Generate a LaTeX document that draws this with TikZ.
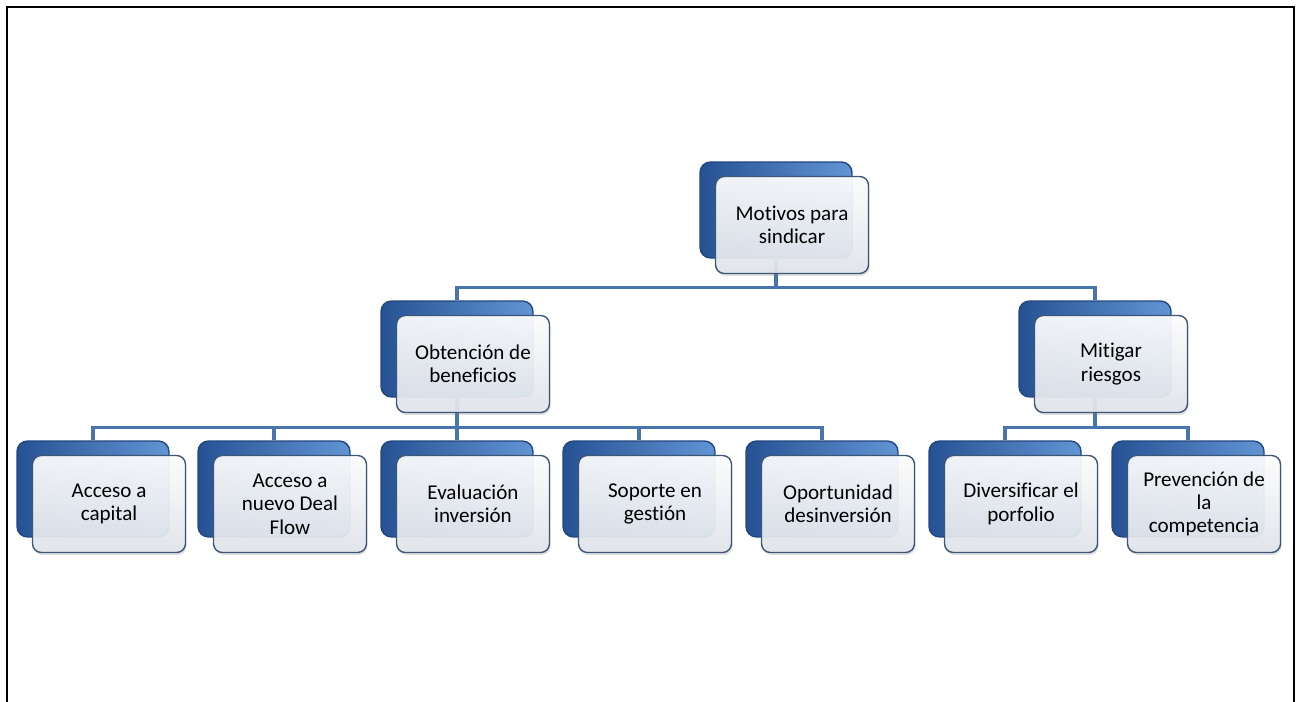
\documentclass[tikz,border=0pt]{standalone}
\usepackage{fontspec}
\setmainfont{Carlito}[Ligatures=NoCommon]
\usetikzlibrary{positioning}
\usetikzlibrary{shadows}
\definecolor{backdark}{RGB}{38,82,148}
\definecolor{backlight}{RGB}{98,148,212}
\definecolor{cardedge}{RGB}{62,86,118}
\definecolor{cardfill}{RGB}{226,230,236}
\definecolor{linkblue}{RGB}{72,116,176}
\tikzset{
    backcard/.style = {rectangle, rounded corners=6pt, thick, draw=backdark!85!black, left color=backdark, right color=backlight, minimum width=3.04cm, minimum height=1.92cm},
    frontcard/.style = {rectangle, rounded corners=5pt, thick, draw=cardedge, top color=white, bottom color=cardfill, fill opacity=0.92, text opacity=1, minimum width=3.06cm, minimum height=1.94cm, align=center, font=\fontsize{12}{13.3}\selectfont, drop shadow={opacity=0.25, shadow xshift=0.6pt, shadow yshift=-1.4pt}},
    link/.style = {draw=linkblue, line width=1.8pt}
}
\begin{document}
\begin{tikzpicture}[x=0.02cm, y=-0.02cm]
\useasboundingbox (0,0) rectangle (1301,702);
\draw[line width=1.2pt] (7,712) -- (7,7) -- (1294,7) -- (1294,712);
%
% back cards
\node[backcard] at (776,210) (motivosb) {};
\node[backcard] at (457,349) (obtenb) {};
\node[backcard] at (1095,349) (mitigb) {};
\node[backcard] at (93,489) (accesob) {};
\node[backcard] at (274,489) (dealb) {};
\node[backcard] at (457,489) (evalb) {};
\node[backcard] at (639,489) (soporteb) {};
\node[backcard] at (822,489) (oportb) {};
\node[backcard] at (1005,489) (diversb) {};
\node[backcard] at (1188,489) (prevenb) {};
%
% connectors
\draw[link] (motivosb.south) -- ++(0,29) -| (obtenb.north);
\draw[link] (motivosb.south) -- ++(0,29) -| (mitigb.north);
\draw[link] (obtenb.south) -- ++(0,30) -| (accesob.north);
\draw[link] (obtenb.south) -- ++(0,30) -| (dealb.north);
\draw[link] (obtenb.south) -- ++(0,30) -| (evalb.north);
\draw[link] (obtenb.south) -- ++(0,30) -| (soporteb.north);
\draw[link] (obtenb.south) -- ++(0,30) -| (oportb.north);
\draw[link] (mitigb.south) -- ++(0,30) -| (diversb.north);
\draw[link] (mitigb.south) -- ++(0,30) -| (prevenb.north);
%
% front cards
\node[frontcard] at (792,225) (motivos) {Motivos para\\sindicar};
\node[frontcard] at (473,364) (obten) {Obtención de\\beneficios};
\node[frontcard] at (1111,364) (mitig) {Mitigar\\riesgos};
\node[frontcard] at (109,504) (acceso) {Acceso a\\capital};
\node[frontcard] at (290,504) (deal) {Acceso a\\nuevo Deal\\Flow};
\node[frontcard] at (473,504) (eval) {Evaluación\\inversión};
\node[frontcard] at (655,504) (soporte) {Soporte en\\gestión};
\node[frontcard] at (838,504) (oport) {Oportunidad\\desinversión};
\node[frontcard] at (1021,504) (divers) {Diversificar el\\porfolio};
\node[frontcard] at (1204,504) (preven) {Prevención de\\la\\competencia};

\end{tikzpicture}
\end{document}
